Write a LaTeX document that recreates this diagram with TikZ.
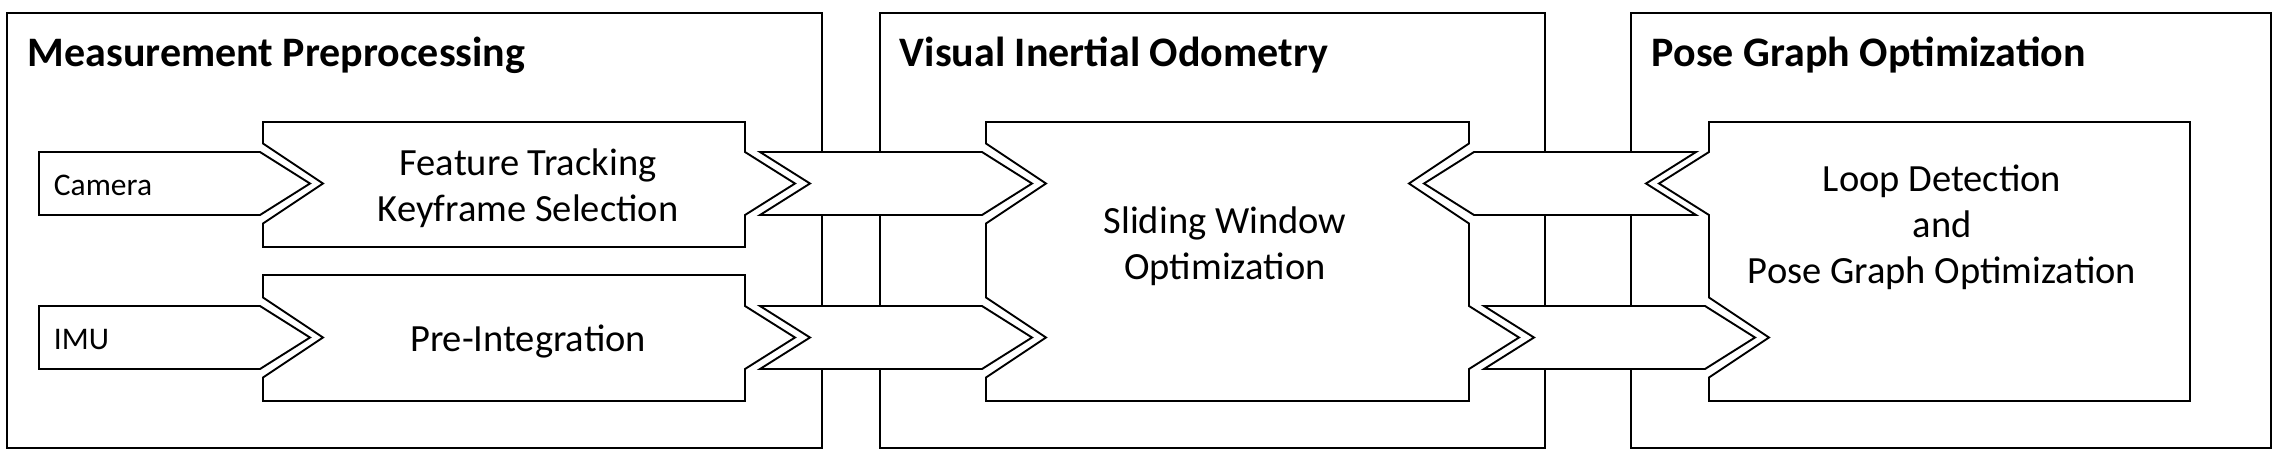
\documentclass[tikz,border=0pt]{standalone}
\usepackage{fontspec}
\setmainfont{Carlito}

\begin{document}
\begin{tikzpicture}[
    x=1pt, y=-1pt, % pixel units, y grows downwards
    line width=1.9pt, % Line thickness for all outlines
    blockshape/.style={draw, fill=white},
    stagetitle/.style={anchor=base west, inner sep=0pt, font=\bfseries\fontsize{42}{50}\selectfont},
    blocktext/.style={align=center, inner sep=0pt, font=\fontsize{38.5}{46}\selectfont},
    sensortext/.style={anchor=base west, inner sep=0pt, font=\fontsize{31.5}{36}\selectfont}
]
\useasboundingbox (0,0) rectangle (2278,461);

% Define the stage frames
\draw (7,13) rectangle (822,448);
\draw (880,13) rectangle (1545,448);
\draw (1631,13) rectangle (2271,448);

% Define the sensor inputs
\draw[blockshape] (39,152) -- (260,152) -- (310,183.5) -- (260,215) -- (39,215) -- cycle;
\draw[blockshape] (39,306) -- (260,306) -- (310,337.5) -- (260,369) -- (39,369) -- cycle;

% Define the processing blocks
\draw[blockshape] (263,122) -- (745,122) -- (745,152) -- (795,183.5) -- (745,215) -- (745,247)
    -- (263,247) -- (263,223.5) -- (323,183.5) -- (263,143.5) -- cycle;
\draw[blockshape] (263,275) -- (745,275) -- (745,306) -- (795,337.5) -- (745,369) -- (745,401)
    -- (263,401) -- (263,377.5) -- (323,337.5) -- (263,297.5) -- cycle;
\draw[blockshape] (986,122) -- (1469,122) -- (1469,143.5) -- (1409,183.5) -- (1469,223.5)
    -- (1469,306) -- (1519,337.5) -- (1469,369) -- (1469,401) -- (986,401)
    -- (986,377.5) -- (1046,337.5) -- (986,297.5) -- (986,223.5) -- (1046,183.5) -- (986,143.5) -- cycle;
\draw[blockshape] (1709,122) -- (2190,122) -- (2190,401) -- (1709,401) -- (1709,377.5)
    -- (1769,337.5) -- (1709,297.5) -- (1709,215) -- (1659,183.5) -- (1709,152) -- cycle;

% Define the connecting chevrons
\draw[blockshape] (760,152) -- (982,152) -- (1032,183.5) -- (982,215) -- (760,215) -- (810,183.5) -- cycle;
\draw[blockshape] (760,306) -- (982,306) -- (1032,337.5) -- (982,369) -- (760,369) -- (810,337.5) -- cycle;
\draw[blockshape] (1424,183.5) -- (1474,152) -- (1696,152) -- (1646,183.5) -- (1696,215) -- (1474,215) -- cycle;
\draw[blockshape] (1484,306) -- (1705,306) -- (1755,337.5) -- (1705,369) -- (1484,369) -- (1534,337.5) -- cycle;

% Define the texts
\node[stagetitle] (prep) at (27,66) {Measurement Preprocessing};
\node[stagetitle] (vio) at (899,66) {Visual Inertial Odometry};
\node[stagetitle] (pgo) at (1651,66) {Pose Graph Optimization};
\node[sensortext] (cam) at (53,195) {Camera};
\node[sensortext] (imu) at (53,349) {IMU};
\node[blocktext] (track) at (528,188) {Feature Tracking\\Keyframe Selection};
\node[blocktext] (preint) at (528,341) {Pre-Integration};
\node[blocktext] (window) at (1225,246) {Sliding Window\\Optimization};
\node[blocktext] (loop) at (1942,227) {Loop Detection\\and\\Pose Graph Optimization};

\end{tikzpicture}
\end{document}
